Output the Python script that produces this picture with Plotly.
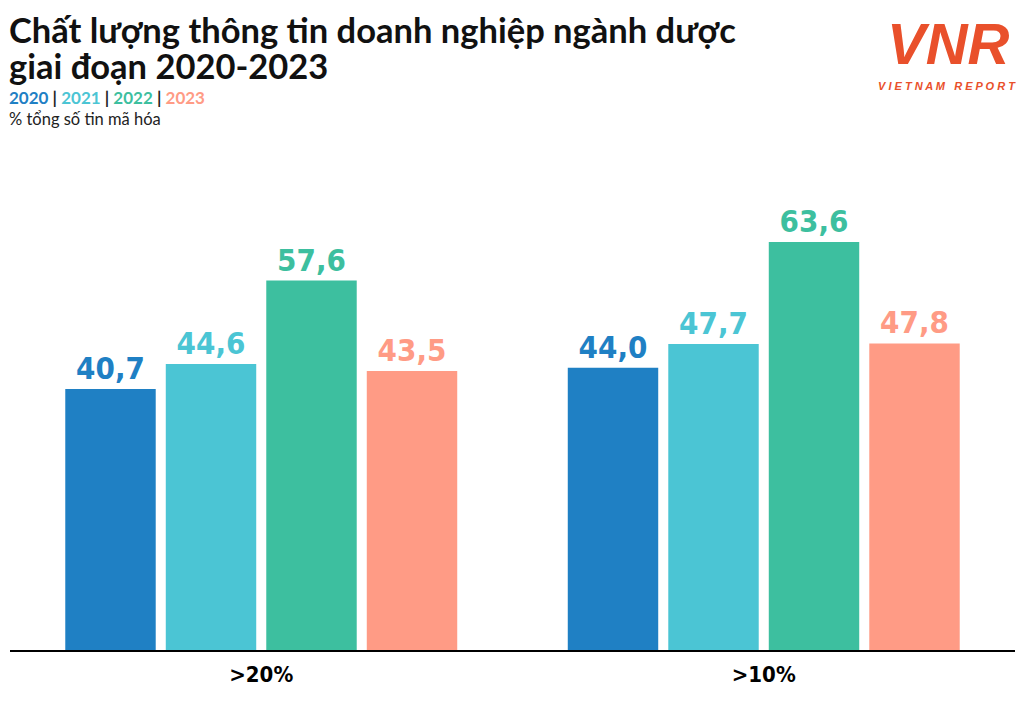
import plotly.graph_objects as go

categories = [">20%", ">10%"]
years = ["2020", "2021", "2022", "2023"]
values = {
    "2020": [40.7, 44.0],
    "2021": [44.6, 47.7],
    "2022": [57.6, 63.6],
    "2023": [43.5, 47.8],
}
colors = {
    "2020": "#1f80c4",
    "2021": "#4bc5d4",
    "2022": "#3dbf9f",
    "2023": "#ff9b85",
}

label_font = "DejaVu Sans Condensed, Liberation Sans Narrow, Roboto, sans-serif"

fig = go.Figure()
for y in years:
    fig.add_trace(
        go.Bar(
            name=y,
            x=categories,
            y=values[y],
            marker_color=colors[y],
            marker_line_width=0,
            text=[f"{v:.1f}".replace(".", ",") for v in values[y]],
            textposition="outside",
            texttemplate="<b>%{text}</b>",
            textfont=dict(family=label_font, size=31, color=colors[y]),
            cliponaxis=False,
        )
    )

# page renders the figure 8px in from the top-left; plot area is page y 201..650
def py(p):
    return (642 - (p - 8)) / 449


legend_txt = " <span style='color:#222'>|</span> ".join(
    f"<span style='color:{colors[y]}'>{y}</span>" for y in years
)

left = dict(xref="paper", yref="paper", x=0, xshift=-2, borderpad=0,
            xanchor="left", yanchor="top", align="left", showarrow=False)

annotations = [
    dict(text="<b>Chất lượng thông tin doanh nghiệp ngành dược</b>", y=py(8),
         font=dict(family="Lato", size=34.5, color="#111"), **left),
    dict(text="<b>giai đoạn 2020-2023</b>", y=py(44),
         font=dict(family="Lato", size=34.5, color="#111"), **left),
    dict(text=f"<b>{legend_txt}</b>", y=py(86),
         font=dict(family="Lato", size=17), **left),
    dict(text="% tổng số tin mã hóa", y=py(108),
         font=dict(family="Lato", size=16.5, color="#222"), **left),
    dict(
        text="<b><i>VNR</i></b>",
        x=1, y=py(10), xref="paper", yref="paper", xshift=-4, borderpad=0,
        xanchor="right", yanchor="top", showarrow=False,
        font=dict(family="Liberation Sans", size=58, color="#e9502b"),
    ),
    dict(
        text="<b><i>V I E T N A M   R E P O R T</i></b>",
        x=1, y=py(79), xref="paper", yref="paper", xshift=2, borderpad=0,
        xanchor="right", yanchor="top", showarrow=False,
        font=dict(family="Liberation Sans", size=11, color="#e9502b"),
    ),
]

fig.update_layout(
    width=1016,
    height=716,
    margin=dict(l=2, r=9, t=193, b=74),
    paper_bgcolor="white",
    plot_bgcolor="white",
    barmode="group",
    bargap=0.2,
    bargroupgap=0.1,
    showlegend=False,
    annotations=annotations,
    xaxis=dict(
        showline=True, linecolor="black", linewidth=1.5,
        showgrid=False, ticks="",
        tickfont=dict(family=label_font, size=22, color="black", weight="bold"),
        ticklabelstandoff=4,
    ),
    yaxis=dict(range=[0, 70], visible=False),
)

fig.write_html("out.html")
